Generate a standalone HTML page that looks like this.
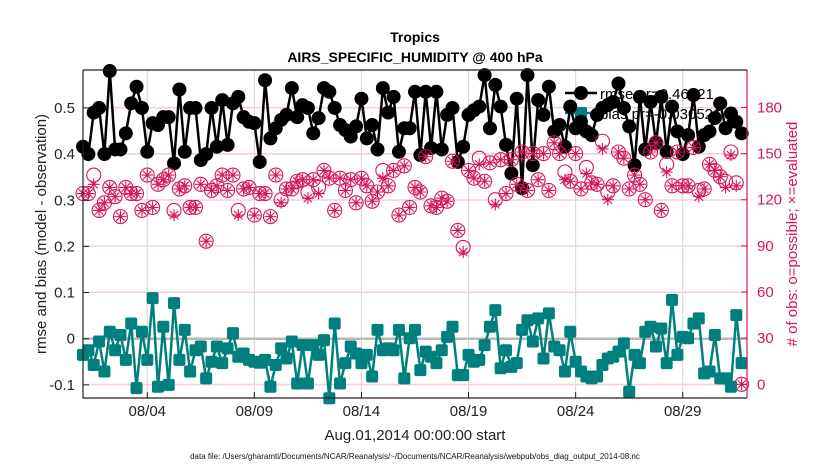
<!DOCTYPE html>
<html><head><meta charset="utf-8"><style>
body{margin:0;background:#fff}
svg{display:block;font-family:"Liberation Sans",sans-serif}
</style></head><body>
<svg id="chart" width="830" height="470" viewBox="0 0 830 470">
<rect x="0" y="0" width="830" height="470" fill="#fff"/>
<text x="415" y="42" text-anchor="middle" font-size="14" font-weight="bold">Tropics</text>
<text x="415" y="62" text-anchor="middle" font-size="14" font-weight="bold">AIRS_SPECIFIC_HUMIDITY @ 400 hPa</text>
<g id="grid"></g>
<g id="legend">
<line x1="565" y1="93" x2="597" y2="93" stroke="#000" stroke-width="2.5"/>
<circle cx="581" cy="93" r="7" fill="#000"/>
<text x="600" y="99" font-size="15">rmse pr=0.46021</text>
<line x1="565" y1="113" x2="597" y2="113" stroke="#007f7f" stroke-width="2.5"/>
<rect x="575" y="107" width="12" height="12" rx="2" fill="#007f7f"/>
<text x="600" y="119" font-size="15">bias pr=-0.030526</text>
</g>
<g id="series"></g>
<g id="axes"></g>
<text transform="translate(46,234) rotate(-90)" text-anchor="middle" font-size="15" fill="#222">rmse and bias (model - observation)</text>
<text transform="translate(797,234) rotate(-90)" text-anchor="middle" font-size="15" fill="#d6155b"># of obs: o=possible; ×=evaluated</text>
<text x="415" y="440" text-anchor="middle" font-size="15" fill="#222">Aug.01,2014 00:00:00 start</text>
<text x="415" y="459" text-anchor="middle" font-size="8" fill="#111">data file: /Users/gharamti/Documents/NCAR/Reanalysis/~/Documents/NCAR/Reanalysis/webpub/obs_diag_output_2014-08.nc</text>
</svg>
<script>
const stepDays = 0.25;
const xTickDays = [3, 8, 13, 18, 23, 28];
const xTickLabels = ["08/04", "08/09", "08/14", "08/19", "08/24", "08/29"];
const leftTicks = [-0.1, 0, 0.1, 0.2, 0.3, 0.4, 0.5];
const leftTickLabels = ["-0.1", "0", "0.1", "0.2", "0.3", "0.4", "0.5"];
const rightTicks = [0, 30, 60, 90, 120, 150, 180];
const rightTickLabels = ["0", "30", "60", "90", "120", "150", "180"];
const rmse = [0.416,0.40,0.49,0.50,0.40,0.58,0.41,0.41,0.445,0.51,0.546,0.50,0.405,0.467,0.463,0.48,0.48,0.38,0.54,0.405,0.50,0.50,0.387,0.40,0.50,0.416,0.517,0.42,0.51,0.524,0.48,0.47,0.467,0.383,
0.56,0.434,0.456,0.474,0.485,0.543,0.48,0.506,0.50,0.445,0.478,0.543,0.535,0.50,0.463,0.452,0.438,0.46,0.52,0.434,0.463,0.41,0.543,0.49,0.524,0.405,0.456,0.456,0.535,0.398,0.535,0.413,
0.535,0.41,0.485,0.50,0.383,0.416,0.485,0.495,0.503,0.571,0.456,0.55,0.503,0.42,0.358,0.52,0.326,0.571,0.376,0.517,0.485,0.546,0.449,0.463,0.416,0.503,0.456,0.47,0.449,0.441,
0.485,0.50,0.506,0.513,0.553,0.50,0.46,0.376,0.524,0.41,0.513,0.423,0.524,0.405,0.503,0.449,0.40,0.441,0.528,0.416,0.441,0.449,0.478,0.51,0.456,0.488,0.47,0.445];
const bias = [-0.035,-0.025,-0.057,-0.006,-0.071,0.015,-0.025,0.008,-0.046,0.033,-0.107,0.015,-0.046,0.088,-0.104,0.026,-0.10,0.077,-0.046,0.019,-0.071,-0.025,-0.017,-0.086,-0.05,-0.017,-0.053,-0.021,0.012,-0.039,-0.032,-0.046,-0.05,-0.052,
-0.046,-0.104,-0.057,-0.021,-0.043,-0.006,-0.097,-0.014,-0.097,-0.014,-0.035,-0.003,-0.129,0.033,-0.097,-0.053,-0.017,-0.032,-0.053,-0.035,-0.082,0.019,-0.025,-0.021,-0.025,0.019,-0.086,0.001,0.019,-0.068,-0.028,-0.039,
-0.053,-0.025,0.004,0.026,-0.079,-0.079,-0.035,-0.05,-0.046,-0.014,0.026,0.062,-0.064,-0.025,-0.061,-0.053,0.019,0.04,-0.006,0.044,-0.043,0.055,-0.017,-0.025,-0.071,0.015,-0.05,-0.071,-0.082,-0.086,
-0.082,-0.057,-0.043,-0.039,-0.028,-0.01,-0.115,-0.035,-0.053,0.015,0.026,-0.017,0.022,-0.053,0.084,-0.035,0.004,0.001,0.033,0.044,-0.075,-0.071,0.008,-0.086,-0.086,-0.104,0.051,-0.053];
const possible = [124,124,136,113,118,128,122,109,128,124,124,113,136,115,130,133,136,113,127,129,115,115,130,93,126,129,136,126,136,113,127,128,110,124,
124,109,136,120,127,127,132,133,125,133,128,139,134,113,134,126,133,118,134,129,119,125,139,129,139,110,142,115,128,125,148,116,
115,121,119,145,100,89,139,134,147,132,144,120,146,124,146,130,151,126,150,133,150,126,157,150,138,132,150,127,141,131,
130,158,125,129,151,147,127,136,130,120,151,157,113,143,129,151,129,129,154,126,127,143,139,135,132,151,131,0];
const evaluated = [124,124,130,113,118,128,122,109,128,124,124,113,136,115,130,133,136,110,127,129,115,115,130,93,126,129,136,126,136,110,127,128,110,124,
124,109,136,118,127,127,132,133,121,133,124,139,134,113,134,126,133,118,134,129,119,125,134,129,139,110,142,115,128,125,148,116,
115,121,119,145,100,86,139,134,143,132,144,117,146,124,146,130,151,126,150,133,150,126,157,150,133,132,150,127,137,131,
130,153,120,129,151,147,127,136,130,120,151,157,113,138,129,151,129,129,154,122,127,143,139,135,128,149,129,0];

const NS = "http://www.w3.org/2000/svg";
const PL = 83, PR = 747, PT = 70, PB = 398;
const xS = d => PL + d * (PR - PL) / 31;
const yL = v => 338.7 - v * 461.5;
const yR = c => 384.3 - c * 46.15 / 30;
function mk(tag, attrs, parent) {
  const e = document.createElementNS(NS, tag);
  for (const k in attrs) e.setAttribute(k, attrs[k]);
  parent.appendChild(e);
  return e;
}
const grid = document.getElementById('grid');
const axes = document.getElementById('axes');
const series = document.getElementById('series');

xTickDays.forEach((d, i) => {
  const g = mk('line', {x1: xS(d), x2: xS(d), y1: PT, y2: PB, stroke: '#d4d4d4', 'stroke-width': 1}, grid);
  
  
  const t = mk('line', {x1: xS(d), x2: xS(d), y1: PB, y2: PB - 6, stroke: '#222', 'stroke-width': 1}, axes);
  
  
  const l = mk('text', {x: xS(d), y: 416, 'text-anchor': 'middle', 'font-size': 15, fill: '#222'}, axes);
  l.textContent = xTickLabels[i];
  
  
});
leftTicks.forEach((v, i) => {
  const g = mk('line', {x1: PL, x2: PR, y1: yL(v), y2: yL(v), stroke: '#f5cfdc', 'stroke-width': 1}, grid);
  
  
  const t = mk('line', {x1: PL, x2: PL + 6, y1: yL(v), y2: yL(v), stroke: '#222'}, axes);
  
  
  const l = mk('text', {x: PL - 8, y: yL(v) + 5, 'text-anchor': 'end', 'font-size': 15, fill: '#222'}, axes);
  l.textContent = leftTickLabels[i];
  
  
});
rightTicks.forEach((c, i) => {
  const g = mk('line', {x1: PL, x2: PR, y1: yR(c), y2: yR(c), stroke: '#f5cfdc', 'stroke-width': 1}, grid);
  
  
  const t = mk('line', {x1: PR, x2: PR - 6, y1: yR(c), y2: yR(c), stroke: '#d6155b'}, axes);
  
  
  const l = mk('text', {x: PR + 10, y: yR(c) + 5, 'text-anchor': 'start', 'font-size': 15, fill: '#d6155b'}, axes);
  l.textContent = rightTickLabels[i];
  
  
});
const zl = mk('line', {x1: PL, x2: PR, y1: yL(0), y2: yL(0), stroke: '#b8b8b8', 'stroke-width': 2.5}, grid);



// rmse
const rp = rmse.map((v, i) => xS(i * stepDays).toFixed(1) + ',' + yL(v).toFixed(1)).join(' ');
const rl = mk('polyline', {points: rp, fill: 'none', stroke: '#000', 'stroke-width': 2.5}, series);


rmse.forEach((v, i) => {
  const c = mk('circle', {cx: xS(i * stepDays), cy: yL(v), r: 7, fill: '#000'}, series);
  
  
});
// counts
possible.forEach((v, i) => {
  const c = mk('circle', {cx: xS(i * stepDays), cy: yR(v), r: 7, fill: 'none', stroke: '#d6155b', 'stroke-width': 1.1}, series);
  
  
});
evaluated.forEach((v, i) => {
  const x = xS(i * stepDays), y = yR(v), s = 6;
  const d = `M${x-s},${y}H${x+s}M${x},${y-s}V${y+s}M${x-s*0.7},${y-s*0.7}L${x+s*0.7},${y+s*0.7}M${x-s*0.7},${y+s*0.7}L${x+s*0.7},${y-s*0.7}`;
  const p = mk('path', {d: d, stroke: '#d6155b', 'stroke-width': 1.1, fill: 'none'}, series);
  
  
});
// bias
const bp = bias.map((v, i) => xS(i * stepDays).toFixed(1) + ',' + yL(v).toFixed(1)).join(' ');
const bl = mk('polyline', {points: bp, fill: 'none', stroke: '#007f7f', 'stroke-width': 2.5}, series);


bias.forEach((v, i) => {
  const r = mk('rect', {x: xS(i * stepDays) - 6, y: yL(v) - 6, width: 12, height: 12, rx: 2, fill: '#007f7f'}, series);
  
  
});
// frame
const fl = mk('path', {d: `M${PL},${PT}V${PB}H${PR}`, fill: 'none', stroke: '#222', 'stroke-width': 1.2}, axes);


const ft = mk('line', {x1: PL, x2: PR, y1: PT, y2: PT, stroke: '#222', 'stroke-width': 1.2}, axes);


const fr = mk('line', {x1: PR, x2: PR, y1: PT, y2: PB, stroke: '#d6155b', 'stroke-width': 1.2}, axes);


</script>
</body></html>
